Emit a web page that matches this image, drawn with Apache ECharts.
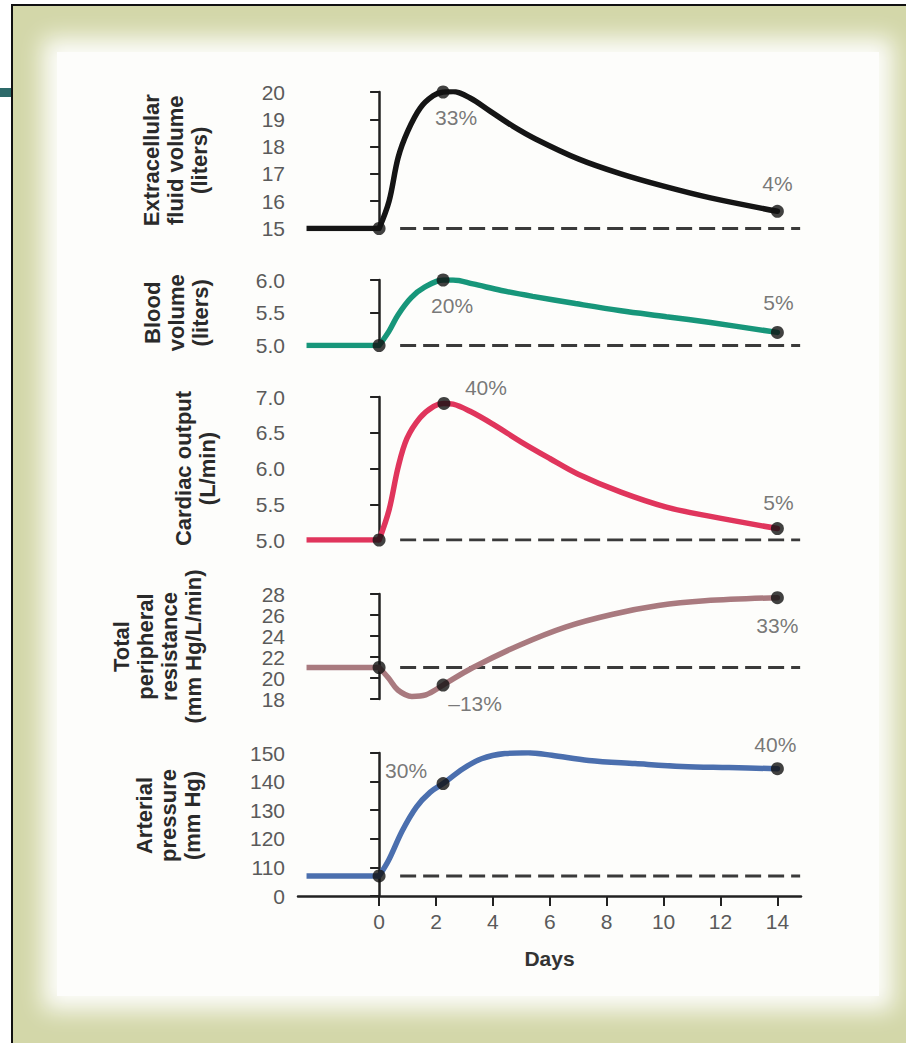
<!DOCTYPE html>
<html>
<head>
<meta charset="utf-8">
<script src="https://cdn.jsdelivr.net/npm/echarts@6/dist/echarts.min.js"></script>
<style>
  html, body { margin: 0; padding: 0; width: 906px; height: 1043px; background: #ffffff; overflow: hidden; }
  #frame { position: absolute; left: 11px; top: 4px; width: 895px; height: 1039px;
           border-left: 2px solid #111; border-top: 2px solid #111; background: #d3d7a9; overflow: hidden; }
  #paper { position: absolute; left: 44px; top: 46px; width: 822px; height: 944px; background: #fdfdfb;
           box-shadow: 0 0 22px 14px #fdfdfb; }
  #tab { position: absolute; left: 0; top: 88px; width: 11px; height: 9px; background: #2d6a6a; }
  #chart { position: absolute; left: 0; top: 0; width: 906px; height: 1043px; }
</style>
</head>
<body>
<div id="frame"><div id="paper"></div></div>
<div id="tab"></div>
<div id="chart"></div>
<script>
// ---------------- data ----------------
const dayTicks = [0, 2, 4, 6, 8, 10, 12, 14];
const flatStart = -2.55;
const dashStart = 0.74;
const dashEnd = 14.8;

const panelNames = [
  'Extracellular\nfluid volume\n(liters)',
  'Blood\nvolume\n(liters)',
  'Cardiac output\n(L/min)',
  'Total\nperipheral\nresistance\n(mm Hg/L/min)',
  'Arterial\npressure\n(mm Hg)'
];
const baselines = [15, 5.0, 5.0, 21, 107];

// Extracellular fluid volume (liters)
const ecfTicks = [15, 16, 17, 18, 19, 20];
const ecfCurve = [[0, 15], [0.35, 16.0], [0.67, 17.6], [1.0, 18.55], [1.45, 19.42], [1.9, 19.86], [2.25, 20.0],
  [2.6, 20.02], [3.2, 19.78], [3.9, 19.3], [4.7, 18.75], [5.5, 18.28], [7.0, 17.55], [8.5, 17.0], [10.0, 16.55],
  [11.65, 16.12], [14, 15.63]];
const ecfPoints = [[0, 15], [2.25, 20.0], [14, 15.63]];
const ecfLabels = ['', '33%', '4%'];

// Blood volume (liters)
const bvTicks = [5.0, 5.5, 6.0];
const bvCurve = [[0, 5.0], [0.35, 5.22], [0.67, 5.47], [1.13, 5.73], [1.6, 5.89], [2.25, 6.0], [2.6, 6.0],
  [3.3, 5.94], [4.3, 5.84], [5.4, 5.75], [6.9, 5.64], [8.5, 5.53], [10.1, 5.44], [11.65, 5.35], [14, 5.2]];
const bvPoints = [[0, 5.0], [2.25, 6.0], [14, 5.2]];
const bvLabels = ['', '20%', '5%'];

// Cardiac output (L/min)
const coTicks = [5.0, 5.5, 6.0, 6.5, 7.0];
const coCurve = [[0, 5.0], [0.35, 5.42], [0.67, 6.02], [0.98, 6.42], [1.44, 6.71], [1.92, 6.87], [2.28, 6.91],
  [2.6, 6.9], [3.2, 6.8], [4.0, 6.62], [5.0, 6.37], [6.0, 6.14], [7.0, 5.92], [8.5, 5.67], [10.1, 5.46],
  [11.65, 5.33], [14, 5.16]];
const coPoints = [[0, 5.0], [2.28, 6.91], [14, 5.16]];
const coLabels = ['', '40%', '5%'];

// Total peripheral resistance (mm Hg/L/min)
const tprTicks = [18, 20, 22, 24, 26, 28];
const tprCurve = [[0, 21], [0.33, 20.0], [0.66, 18.86], [1.15, 18.25], [1.64, 18.4], [2.25, 19.33],
  [3.27, 20.95], [4.91, 23.1], [6.55, 24.85], [8.18, 26.05], [9.82, 26.9], [11.45, 27.35], [14, 27.65]];
const tprPoints = [[0, 21], [2.25, 19.33], [14, 27.65]];
const tprLabels = ['', '\u201313%', '33%'];

// Arterial pressure (mm Hg); the axis is broken: its lowest tick is labelled 0
const apTicks = [100, 110, 120, 130, 140, 150];
const apTickLabels = ['0', '110', '120', '130', '140', '150'];
const apCurve = [[0, 107], [0.33, 112.4], [0.82, 122.9], [1.31, 131.1], [1.8, 136.3], [2.25, 139.3],
  [2.95, 144.5], [3.6, 148], [4.42, 149.8], [5.24, 150.1], [6.07, 149.2], [7.37, 147.4], [9.0, 146.3],
  [10.65, 145.3], [12.3, 144.9], [14, 144.5]];
const apPoints = [[0, 107], [2.25, 139.3], [14, 144.5]];
const apLabels = ['', '30%', '40%'];

// ---------------- layout / style ----------------
const FONT = '"Liberation Sans", Arial, Helvetica, sans-serif';
const colors = ['#151515', '#17967a', '#e0355c', '#a97a7f', '#4b6fae'];
const grids = [
  { top: 92, height: 136.5 },
  { top: 280, height: 65.5 },
  { top: 397, height: 143 },
  { top: 594, height: 105 },
  { top: 753, height: 143 }
];
const nameGaps = [87, 86, 79, 93, 94];
const namePads = [0, 0, 0, 0, 18];
const labelOffsets = [
  [[0, 0], [13, 25], [0, -28]],
  [[0, 0], [9, 25], [1, -30]],
  [[0, 0], [42, -16], [1, -26]],
  [[0, 0], [32, 18], [0, 28]],
  [[0, 0], [-37, -13], [-2, -24]]
];
const curves = [ecfCurve, bvCurve, coCurve, tprCurve, apCurve];
const points = [ecfPoints, bvPoints, coPoints, tprPoints, apPoints];
const labels = [ecfLabels, bvLabels, coLabels, tprLabels, apLabels];
const ticks = [ecfTicks, bvTicks, coTicks, tprTicks, apTicks];
const decimals = [0, 1, 1, 0, 0];

const xMin = -2.85, xMax = 14.83;

const gridOpt = grids.map(g => ({ left: 298, width: 503, top: g.top, height: g.height }));

const xAxisOpt = grids.map((g, i) => {
  const last = i === grids.length - 1;
  return {
    type: 'value', gridIndex: i, min: xMin, max: xMax,
    show: last,
    name: last ? 'Days' : '',
    nameLocation: 'middle', nameGap: 52,
    nameTextStyle: { fontFamily: FONT, fontWeight: 'bold', fontSize: 21, color: '#333' },
    axisLine: { show: true, onZero: false, lineStyle: { color: '#222', width: 2.5 } },
    axisTick: { show: true, customValues: dayTicks, length: 10, lineStyle: { color: '#222', width: 2 } },
    axisLabel: { show: true, customValues: dayTicks, margin: 15, fontFamily: FONT, fontSize: 21, color: '#5a5a5a' },
    splitLine: { show: false }
  };
});

const yAxisOpt = grids.map((g, i) => {
  const t = ticks[i];
  return {
    type: 'value', gridIndex: i, min: t[0], max: t[t.length - 1],
    name: panelNames[i], nameLocation: 'middle', nameRotate: 90, nameGap: nameGaps[i],
    nameTextStyle: { fontFamily: FONT, fontWeight: 'bold', fontSize: 22, lineHeight: 24, color: '#2a2a2a',
      padding: [0, 0, 0, namePads[i]] },
    axisLine: { show: true, lineStyle: { color: '#222', width: 2.5 } },
    axisTick: { show: true, length: 9, customValues: t, lineStyle: { color: '#222', width: 2 } },
    axisLabel: { show: true, margin: 13, customValues: t, fontFamily: FONT, fontSize: 21, color: '#5a5a5a',
      formatter: v => {
        if (i === 4) { const k = apTicks.indexOf(v); return k >= 0 ? apTickLabels[k] : ''; }
        return v.toFixed(decimals[i]);
      } },
    splitLine: { show: false }
  };
});

const series = [];
grids.forEach((g, i) => {
  const b = baselines[i];
  series.push({
    type: 'line', xAxisIndex: i, yAxisIndex: i, data: [[dashStart, b], [dashEnd, b]],
    symbol: 'none', silent: true, z: 1,
    lineStyle: { color: '#3a3a3a', width: 3, type: [16, 7] }
  });
  series.push({
    type: 'line', xAxisIndex: i, yAxisIndex: i, data: [[flatStart, b], [0, b]],
    symbol: 'none', silent: true, z: 2,
    lineStyle: { color: colors[i], width: 5.5, cap: 'butt' }
  });
  series.push({
    type: 'line', xAxisIndex: i, yAxisIndex: i, data: curves[i],
    symbol: 'none', smooth: 0.35, silent: true, z: 3,
    lineStyle: { color: colors[i], width: 5.5, cap: 'round' }
  });
  series.push({
    type: 'scatter', xAxisIndex: i, yAxisIndex: i, z: 5, silent: true,
    symbol: 'circle', symbolSize: 13, itemStyle: { color: '#111' },
    data: points[i].map((p, k) => ({
      value: p,
      label: { show: labels[i][k] !== '', formatter: labels[i][k], position: 'inside',
        offset: labelOffsets[i][k], fontFamily: FONT, fontSize: 21, color: '#555' }
    }))
  });
});

const chart = echarts.init(document.getElementById('chart'), null, { renderer: 'svg' });
chart.setOption({
  backgroundColor: 'transparent',
  animation: false,
  grid: gridOpt,
  xAxis: xAxisOpt,
  yAxis: yAxisOpt,
  series: series
});
</script>
</body>
</html>
